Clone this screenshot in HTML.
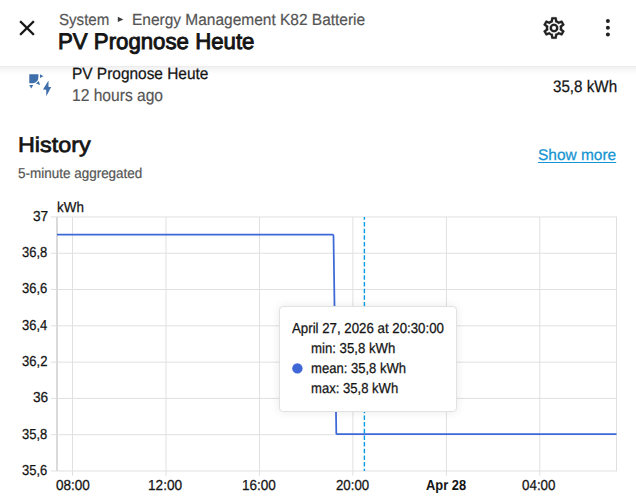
<!DOCTYPE html>
<html><head><meta charset="utf-8">
<style>
html,body{margin:0;padding:0;background:#fff;width:636px;height:500px;overflow:hidden;position:relative;font-family:"Liberation Sans",sans-serif;}
.t{position:absolute;white-space:nowrap;line-height:1;transform-origin:0 0;z-index:10;text-rendering:geometricPrecision;}
.bl{display:inline-block;width:0;height:0;}
#crumb,#crumb2,#title{z-index:30;}
.hdr{position:absolute;left:0;top:0;width:636px;height:66px;background:#fff;z-index:20;}
.shadow{position:absolute;left:0;top:66px;width:636px;height:9px;background:linear-gradient(rgba(0,0,0,0.09),rgba(0,0,0,0.055) 12%,rgba(0,0,0,0.02) 60%,rgba(0,0,0,0));z-index:19;}
svg{position:absolute;overflow:visible;}
.tip{position:absolute;left:279px;top:306px;width:175.5px;height:103.5px;background:#fff;border:1px solid #e2e2e2;border-radius:4px;box-shadow:0 0 10px rgba(0,0,0,0.09);z-index:8;}

</style></head><body>

<svg class="nt" style="left:0;top:0" width="636" height="500">
  <path fill="#3f6fab" d="M29.3 74.3H38.4V77.6A5.6 5.6 0 0 1 32.8 83.2H29.3Z"/>
  <path fill="#3f6fab" d="M40 74.3L43.4 76.2L40 78.1Z"/>
  <path fill="#3f6fab" d="M36 83.5L38.7 81L40.1 84.9Z"/>
  <path fill="#3f6fab" d="M29.3 85L33.3 85L31.2 88.4Z"/>
  <path fill="#3f6fab" d="M48.5 80.6L43 89.5L46.2 89.7L46.3 96.2L51.2 87.1L48.5 87.1Z"/>
</svg>

<div class="hdr nt">
  <svg style="left:14px;top:14.5px" width="26" height="26" viewBox="0 0 24 24"><path fill="#141414" stroke="#141414" stroke-width="0.15" d="M19,6.41L17.59,5L12,10.59L6.41,5L5,6.41L10.59,12L5,17.59L6.41,19L12,13.41L17.59,19L19,17.59L13.41,12L19,6.41Z"/></svg>
  <svg style="left:0;top:0" width="636" height="66"><path d="M117.8 16.8L123.4 19.4L117.8 22.0Z" fill="#3c3c3c"/></svg>
  <svg style="left:541px;top:14.5px" width="26" height="26" viewBox="0 0 24 24"><path fill="#212121" stroke="#212121" stroke-width="0.2" stroke-linejoin="round" d="M12,8A4,4 0 0,1 16,12A4,4 0 0,1 12,16A4,4 0 0,1 8,12A4,4 0 0,1 12,8M12,10A2,2 0 0,0 10,12A2,2 0 0,0 12,14A2,2 0 0,0 14,12A2,2 0 0,0 12,10M10,22C9.75,22 9.54,21.82 9.5,21.58L9.13,18.93C8.5,18.68 7.96,18.34 7.44,17.94L4.95,18.95C4.73,19.03 4.46,18.95 4.34,18.73L2.34,15.27C2.21,15.05 2.27,14.78 2.46,14.63L4.57,12.97L4.5,12L4.57,11L2.46,9.37C2.27,9.22 2.21,8.95 2.34,8.73L4.34,5.27C4.46,5.05 4.73,4.96 4.95,5.05L7.44,6.05C7.96,5.66 8.5,5.32 9.13,5.07L9.5,2.42C9.54,2.18 9.75,2 10,2H14C14.25,2 14.46,2.18 14.5,2.42L14.87,5.07C15.5,5.32 16.04,5.66 16.56,6.05L19.05,5.05C19.27,4.96 19.54,5.05 19.66,5.27L21.66,8.73C21.79,8.95 21.73,9.22 21.54,9.37L19.43,11L19.5,12L19.43,13L21.54,14.63C21.73,14.78 21.79,15.05 21.66,15.27L19.66,18.73C19.54,18.95 19.27,19.04 19.05,18.95L16.56,17.95C16.04,18.34 15.5,18.68 14.87,18.93L14.5,21.58C14.46,21.82 14.25,22 14,22H10M11.25,4L10.88,6.61C9.68,6.86 8.62,7.5 7.85,8.39L5.44,7.35L4.69,8.65L6.8,10.2C6.4,11.37 6.4,12.64 6.8,13.8L4.68,15.36L5.43,16.66L7.86,15.62C8.63,16.5 9.68,17.14 10.87,17.38L11.24,20H12.76L13.130,17.39C14.32,17.14 15.37,16.5 16.14,15.62L18.57,16.66L19.32,15.36L17.2,13.81C17.6,12.64 17.6,11.37 17.2,10.2L19.31,8.65L18.56,7.35L16.15,8.39C15.38,7.5 14.32,6.86 13.12,6.62L12.75,4H11.25Z"/></svg>
  <svg style="left:0;top:0" width="636" height="66"><circle cx="607.9" cy="21" r="2" fill="#212121"/><circle cx="607.9" cy="27.8" r="2" fill="#212121"/><circle cx="607.9" cy="34.6" r="2" fill="#212121"/></svg>
</div>
<div class="shadow nt"></div>

<svg class="nt" style="left:0;top:0" width="636" height="500">
  <g stroke="#e0e0e0" stroke-width="1" fill="none">
    <path d="M51 216.95H617M51 253.24H617M51 289.53H617M51 325.82H617M51 362.11H617M51 398.40H617M51 434.69H617M51 470.98H617"/>
    <path d="M72.5 216.95V475.78M166.0 216.95V475.78M259.5 216.95V475.78M352.9 216.95V475.78M446.4 216.95V475.78M539.8 216.95V475.78M616.5 216.95V470.98"/>
  </g>
  <path d="M57 216.95V470.98" stroke="#dadada" stroke-width="2"/>
  <path d="M57 234.6H332.6Q333.4 234.6 333.5 235.6L336.3 433.3Q336.4 434.2 337.3 434.2H616.5" stroke="#3d68d8" stroke-width="1.75" fill="none" stroke-linejoin="round"/>
  <path d="M364.4 216.95V470.98" stroke="#039be5" stroke-width="1.4" stroke-dasharray="4.5 2.17" stroke-dashoffset="1.62" fill="none"/>
</svg>

<div class="tip nt"></div>
<svg class="nt" style="left:0;top:0;z-index:9" width="636" height="500"><circle cx="297.4" cy="368.4" r="5.2" fill="#3f67d6"/></svg>

<div id="crumb" class="t" style="left:58.59px;top:12.009px;font-size:16.10px;font-weight:400;color:#555555;transform:scaleX(0.9377);-webkit-text-stroke:0.20px #555555;">System</div>
<div id="crumb2" class="t" style="left:132.42px;top:12.009px;font-size:16.10px;font-weight:400;color:#555555;transform:scaleX(0.9617);-webkit-text-stroke:0.20px #555555;">Energy Management K82 Batterie</div>
<div id="title" class="t" style="left:58.25px;top:31.005px;font-size:22.60px;font-weight:400;color:#141414;transform:scaleX(0.9836);-webkit-text-stroke:0.90px #141414;">PV Prognose Heute</div>
<div id="rowname" class="t" style="left:71.94px;top:66.011px;font-size:16.30px;font-weight:400;color:#141414;transform:scaleX(0.9478);-webkit-text-stroke:0.25px #141414;">PV Prognose Heute</div>
<div id="ago" class="t" style="left:72.06px;top:87.015px;font-size:17.20px;font-weight:400;color:#555555;transform:scaleX(0.9073);-webkit-text-stroke:0.20px #555555;">12 hours ago</div>
<div id="val" class="t" style="left:552.98px;top:79.007px;font-size:16.60px;font-weight:400;color:#141414;transform:scaleX(0.9140);-webkit-text-stroke:0.25px #141414;">35,8 kWh</div>
<div id="hist" class="t" style="left:17.52px;top:135.006px;font-size:21.40px;font-weight:400;color:#141414;transform:scaleX(1.0904);-webkit-text-stroke:0.70px #141414;">History</div>
<div id="agg" class="t" style="left:18.45px;top:167.002px;font-size:14.30px;font-weight:400;color:#555555;transform:scaleX(0.9424);-webkit-text-stroke:0.20px #555555;">5-minute aggregated</div>
<div id="more" class="t" style="left:538.40px;top:148.001px;font-size:15.50px;font-weight:400;color:#1494d2;transform:scaleX(0.9974);text-decoration:underline;text-underline-offset:1.5px;-webkit-text-stroke:0.25px #1494d2;">Show more</div>
<div id="kwh" class="t" style="left:56.97px;top:201.004px;font-size:14.50px;font-weight:400;color:#141414;transform:scaleX(0.9256);-webkit-text-stroke:0.25px #141414;">kWh</div>
<div id="x0800" class="t" style="left:55.83px;top:479.004px;font-size:14.50px;font-weight:400;color:#141414;transform:scaleX(0.9334);-webkit-text-stroke:0.25px #141414;">08:00</div>
<div id="x1200" class="t" style="left:148.20px;top:479.004px;font-size:14.50px;font-weight:400;color:#141414;transform:scaleX(0.9411);-webkit-text-stroke:0.25px #141414;">12:00</div>
<div id="x1600" class="t" style="left:241.56px;top:479.004px;font-size:14.50px;font-weight:400;color:#141414;transform:scaleX(0.9332);-webkit-text-stroke:0.25px #141414;">16:00</div>
<div id="x2000" class="t" style="left:335.60px;top:479.004px;font-size:14.50px;font-weight:400;color:#141414;transform:scaleX(0.9136);-webkit-text-stroke:0.25px #141414;">20:00</div>
<div id="xapr" class="t" style="left:425.99px;top:479.004px;font-size:14.50px;font-weight:700;color:#141414;transform:scaleX(0.8875);">Apr 28</div>
<div id="x0400" class="t" style="left:522.47px;top:479.004px;font-size:14.50px;font-weight:400;color:#141414;transform:scaleX(0.9227);-webkit-text-stroke:0.25px #141414;">04:00</div>
<div id="tdate" class="t" style="left:291.58px;top:322.011px;font-size:14.40px;font-weight:400;color:#141414;transform:scaleX(0.9219);-webkit-text-stroke:0.25px #141414;">April 27, 2026 at 20:30:00</div>
<div id="tmin" class="t" style="left:310.94px;top:342.011px;font-size:14.40px;font-weight:400;color:#141414;transform:scaleX(0.9172);-webkit-text-stroke:0.25px #141414;">min: 35,8 kWh</div>
<div id="tmean" class="t" style="left:310.97px;top:362.011px;font-size:14.40px;font-weight:400;color:#141414;transform:scaleX(0.9077);-webkit-text-stroke:0.25px #141414;">mean: 35,8 kWh</div>
<div id="tmax" class="t" style="left:310.98px;top:382.011px;font-size:14.40px;font-weight:400;color:#141414;transform:scaleX(0.9084);-webkit-text-stroke:0.25px #141414;">max: 35,8 kWh</div>
<div id="y0" class="t" style="left:32.68px;top:210.004px;font-size:14.50px;font-weight:400;color:#141414;transform:scaleX(0.9447);-webkit-text-stroke:0.25px #141414;">37</div>
<div id="y1" class="t" style="left:21.93px;top:246.004px;font-size:14.50px;font-weight:400;color:#141414;transform:scaleX(0.8961);-webkit-text-stroke:0.25px #141414;">36,8</div>
<div id="y2" class="t" style="left:21.94px;top:282.004px;font-size:14.50px;font-weight:400;color:#141414;transform:scaleX(0.8968);-webkit-text-stroke:0.25px #141414;">36,6</div>
<div id="y3" class="t" style="left:21.97px;top:319.004px;font-size:14.50px;font-weight:400;color:#141414;transform:scaleX(0.8958);-webkit-text-stroke:0.25px #141414;">36,4</div>
<div id="y4" class="t" style="left:21.93px;top:355.004px;font-size:14.50px;font-weight:400;color:#141414;transform:scaleX(0.9009);-webkit-text-stroke:0.25px #141414;">36,2</div>
<div id="y5" class="t" style="left:32.68px;top:391.004px;font-size:14.50px;font-weight:400;color:#141414;transform:scaleX(0.9446);-webkit-text-stroke:0.25px #141414;">36</div>
<div id="y6" class="t" style="left:21.93px;top:428.004px;font-size:14.50px;font-weight:400;color:#141414;transform:scaleX(0.8961);-webkit-text-stroke:0.25px #141414;">35,8</div>
<div id="y7" class="t" style="left:21.94px;top:464.004px;font-size:14.50px;font-weight:400;color:#141414;transform:scaleX(0.8968);-webkit-text-stroke:0.25px #141414;">35,6</div>
</body></html>
